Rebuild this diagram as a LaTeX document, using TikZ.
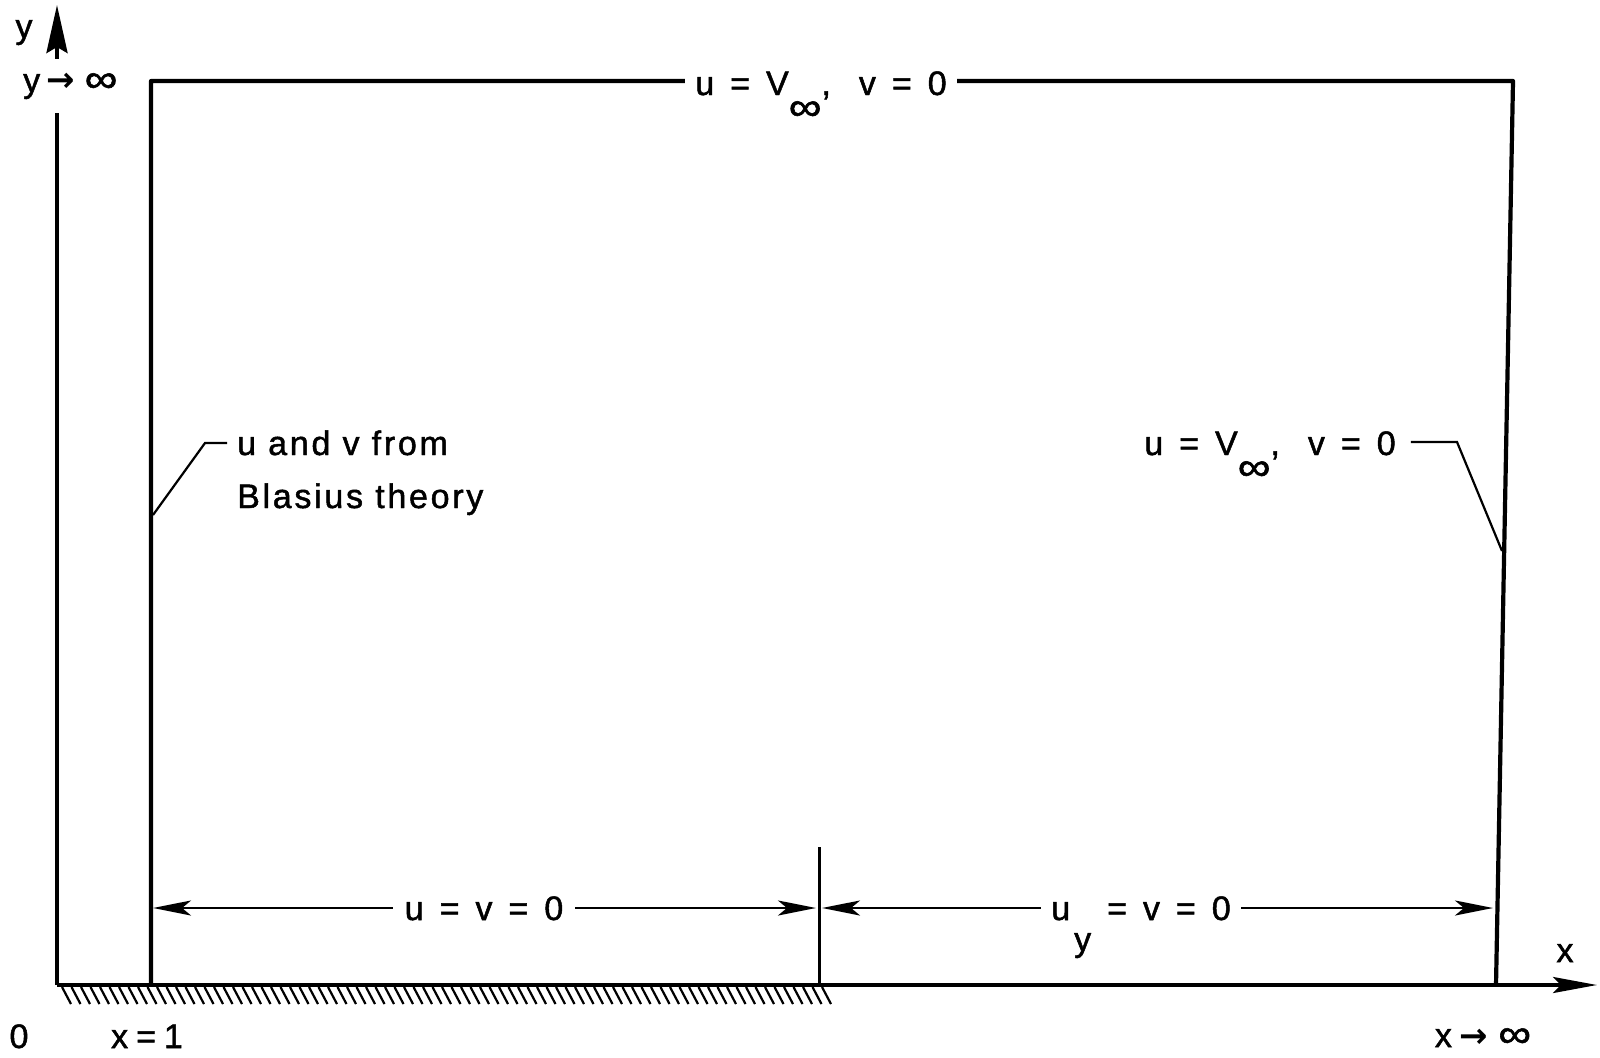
\documentclass[tikz,border=0pt]{standalone}
\usepackage{graphicx}
\usepackage{fontspec}
\setmainfont{Liberation Sans}[LetterSpace=8, FakeBold=1.4]
\newfontfamily\arrowfont{DejaVu Sans}
\usetikzlibrary{arrows.meta}
\tikzset{
  lbl/.style={font=\fontsize{34}{53}\selectfont, inner sep=0pt},
  boxline/.style={line width=4.2pt, line join=round},
  axisline/.style={line width=4pt},
  dimline/.style={line width=2.8pt},
  leader/.style={line width=2.2pt},
  hatch/.style={line width=2.2pt},
  dimtip/.tip={Stealth[length=38pt, width=15pt, inset=9pt]},
}
\newcommand{\infsym}{\scalebox{1.35}[1.15]{∞}}
\newcommand{\sub}[1]{\raisebox{-25pt}{#1}}
\newcommand{\gap}{\hspace{16pt}}
\newcommand{\toarrow}{{\arrowfont\bfseries →}}
\begin{document}
\begin{tikzpicture}[x=1pt, y=-1pt]
\useasboundingbox (0,0) rectangle (1600,1057);
% key points
\coordinate (O)  at (57,985);
\coordinate (ytip) at (57,5);
\coordinate (xtip) at (1597,985);
\coordinate (bl) at (151,985);
\coordinate (tl) at (151,81);
\coordinate (tr) at (1513,81);
\coordinate (br) at (1496,985);
\coordinate (divtop) at (819,847);
\coordinate (divbot) at (819,985);
% hatching under the wall
\foreach \x in {62,71.5,...,822} \draw[hatch] (\x,987) -- (\x+9,1004);
% axes
\draw[axisline, -{Stealth[length=48pt, width=21pt, inset=6pt]}] (O) -- (ytip);
\draw[axisline, -{Stealth[length=44pt, width=16pt, inset=8pt]}] (O) -- (xtip);
% box
\draw[boxline] (bl) -- (tl) -- (tr) -- (br);
\draw[line width=3pt] (divbot) -- (divtop);
% dimension arrows
\coordinate (la) at (153,908);
\coordinate (lb) at (816,908);
\coordinate (ra) at (822,908);
\coordinate (rb) at (1493,908);
\draw[dimline, {dimtip}-{dimtip}] (la) -- (lb);
\draw[dimline, {dimtip}-{dimtip}] (ra) -- (rb);
% labels
\node[lbl, fill=white, inner xsep=10pt, inner ysep=4pt, anchor=base] (top) at (821,95) {u\gap=\gap V\sub{\infsym},\hspace{28pt}v\gap=\gap 0};
\node[lbl, fill=white, inner xsep=12pt, inner ysep=4pt, anchor=base] (uv0) at (484,920) {u\gap=\gap v\gap=\gap 0};
\node[lbl, fill=white, inner xsep=10pt, inner ysep=4pt, anchor=base] (uy0) at (1141,920) {u\hspace{4pt}\raisebox{-31pt}{y}\gap=\gap v\gap=\gap 0};
\node[lbl, anchor=base west, align=left] (blas) at (237,508) {u and v from\\Blasius theory};
\node[lbl, anchor=base] (rlab) at (1270,455) {u\gap=\gap V\sub{\infsym},\hspace{28pt}v\gap=\gap 0};
\node[lbl, anchor=base] (ylab) at (24,38) {y};
\node[lbl, fill=white, inner ysep=14pt, inner xsep=2pt, anchor=base west] (yinf) at (21,92) {y\hspace{6pt}\toarrow\hspace{10pt}\infsym};
\node[lbl, anchor=base] (xlab) at (1565,962) {x};
\node[lbl, anchor=base] (xinf) at (1483,1047) {x\hspace{8pt}\toarrow\hspace{10pt}\infsym};
\node[lbl, anchor=base] (zero) at (19,1048) {0};
\node[lbl, anchor=base] (x1) at (147,1048) {x\hspace{8pt}=\hspace{8pt}1};
% leaders
\coordinate (lfoot) at (153,515);
\coordinate (lknee) at (205,443);
\coordinate (rfoot) at (1502,551);
\coordinate (rknee) at (1457,442);
\draw[leader] (lfoot) -- (lknee) -- ([xshift=-10pt]blas.west |- lknee);
\draw[leader] ([xshift=15pt]rlab.east |- rknee) -- (rknee) -- (rfoot);
\end{tikzpicture}
\end{document}
